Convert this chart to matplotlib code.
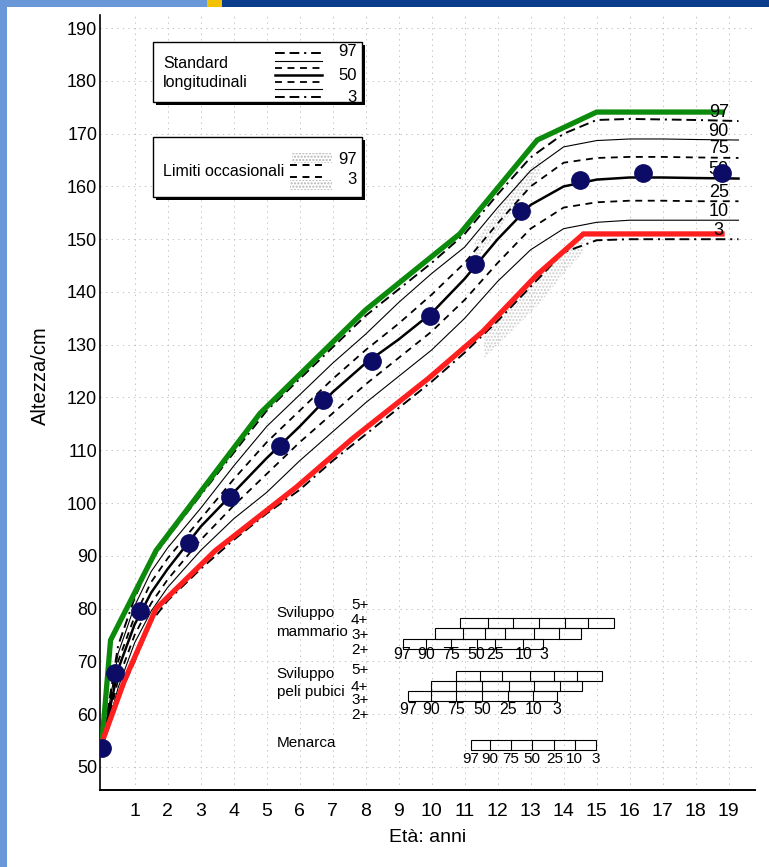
import numpy as np
import matplotlib.pyplot as plt
from matplotlib.patches import Rectangle

plt.rcParams['font.family'] = ['Liberation Sans', 'DejaVu Sans']
plt.rcParams['lines.scale_dashes'] = False

# percentile curves (age in years, height in cm)
ages = [0, 0.5, 1, 1.5, 2, 3, 4, 5, 6, 7, 8, 9, 10, 11, 12, 13, 14, 15, 16, 17, 18, 19.3]
p97 = [53.5, 73, 82, 89, 93.5, 101.5, 109.5, 117.5, 123.5, 129.5, 135.5, 140.5, 145.5, 151, 158.5, 165.5, 170, 172.6, 172.8, 172.7, 172.6, 172.4]
p90 = [53.5, 71.5, 80.5, 87, 91.5, 99, 107, 114.5, 120.5, 126.5, 132, 138, 143.5, 148.5, 156, 163, 167.5, 168.7, 169, 169, 168.9, 168.8]
p75 = [53.5, 70, 78.5, 85, 89.5, 97, 104.5, 111.5, 117.5, 123.5, 129, 134, 139.5, 145.5, 153, 160, 164.5, 165.4, 165.6, 165.6, 165.5, 165.4]
p50 = [53.5, 68.5, 77, 83, 87.5, 95.5, 102, 108.5, 114.5, 121, 126.5, 131, 136, 142.5, 150, 156.5, 160, 161.3, 161.7, 161.7, 161.6, 161.5]
p25 = [53.5, 66.5, 75, 81, 85.5, 93, 99.5, 105.5, 111.5, 117, 122.5, 127.5, 132.5, 138.5, 145.5, 152, 156, 157, 157.3, 157.3, 157.2, 157.2]
p10 = [53.5, 65, 73.5, 79.5, 84, 91, 97, 102, 108, 113.5, 119, 124, 129, 135, 142, 148, 152, 153.2, 153.6, 153.6, 153.6, 153.6]
p3 = [53.5, 63, 70, 77.5, 81.5, 87.5, 93, 98, 102.5, 108, 113, 118, 123, 128.5, 134.5, 141, 147.5, 149.8, 150, 150, 150, 150]

# bold limits
green_age = [0, 0.27, 1.65, 4.8, 8.0, 10.85, 13.2, 15.0, 18.8]
green_h = [54, 74, 91, 117, 136.6, 151, 168.8, 174.1, 174.1]
red_age = [0, 0.7, 1.65, 3.45, 5.9, 7.6, 9.9, 11.55, 13.2, 14.6, 18.8]
red_h = [54.5, 66.5, 80, 91, 103, 112.2, 123.6, 132.5, 143.3, 151, 151]

# patient measurements
dot_age = [0, 0.4, 1.15, 2.65, 3.9, 5.4, 6.7, 8.2, 9.95, 11.3, 12.7, 14.5, 16.4, 18.8]
dot_h = [53.5, 67.8, 79.5, 92.5, 101.2, 110.8, 119.5, 126.9, 135.5, 145.3, 155.3, 161.2, 162.5, 162.5]

# pubertal stages: ages at percentiles 97,90,75,50,25,10,3
pct_labels = ['97', '90', '75', '50', '25', '10', '3']
mamm_rows = [
    [10.85, 11.72, 12.48, 13.24, 14.05, 14.75, 15.53],
    [10.09, 10.95, 11.62, 12.23, 13.09, 13.85, 14.54],
    [9.12, 9.84, 10.60, 11.36, 11.92, 12.78, 13.39],
]
pub_rows = [
    [10.73, 11.46, 12.13, 12.99, 13.72, 14.41, 15.17],
    [9.99, 10.75, 11.52, 12.33, 13.09, 13.88, 14.56],
    [9.28, 9.99, 10.75, 11.52, 12.32, 13.08, 13.80],
]
menarca = [11.18, 11.77, 12.40, 13.04, 13.72, 14.33, 14.97]
stages = ['5+', '4+', '3+', '2+']

GREEN = '#0b8a0b'
RED = '#ff1f1f'
NAVY = '#0c0c66'
D97 = (0, (7, 3.5, 7, 3.5, 1.5, 3.5))
D75 = (0, (5, 4))

fig = plt.figure(figsize=(7.69, 8.67), dpi=100)
ax = fig.add_axes([100 / 769, 77 / 867, 655 / 769, 775 / 867])
ax.set_xlim(-0.05, 19.8)
ax.set_ylim(45.6, 192.5)

# faint graph-paper grid
for a in range(1, 20):
    ax.axvline(a, color='#c4c4c4', lw=0.7, ls=(0, (1, 3)), zorder=0)
for h in range(50, 200, 10):
    ax.axhline(h, color='#c4c4c4', lw=0.7, ls=(0, (1, 3)), zorder=0)

# occasional limits (stippled)
ax.fill_between([11.3, 12.0, 12.7, 13.3], [149.5, 155.5, 161.5, 165.5], [145.5, 151.5, 157.5, 162.5],
                facecolor='none', edgecolor='#cccccc', hatch='.....', lw=0, zorder=1)
ax.fill_between([11.6, 12.5, 13.3, 14.0, 14.6], [132.5, 138.5, 143.5, 147.5, 150.5], [127.5, 133, 138, 143.5, 147.5],
                facecolor='none', edgecolor='#cccccc', hatch='.....', lw=0, zorder=1)

ax.plot(ages, p97, color='k', lw=1.4, ls=D97, zorder=2)
ax.plot(ages, p90, color='k', lw=0.8, zorder=2)
ax.plot(ages, p75, color='k', lw=1.3, ls=D75, zorder=2)
ax.plot(ages, p50, color='k', lw=1.8, zorder=2)
ax.plot(ages, p25, color='k', lw=1.3, ls=D75, zorder=2)
ax.plot(ages, p10, color='k', lw=0.8, zorder=2)
ax.plot(ages, p3, color='k', lw=1.4, ls=D97, zorder=2)

ax.plot(green_age, green_h, color=GREEN, lw=3.8, solid_joinstyle='miter', zorder=3)
ax.plot(red_age, red_h, color=RED, lw=3.8, solid_joinstyle='miter', zorder=3)

for lab, ser in zip(pct_labels, [p97, p90, p75, p50, p25, p10, p3]):
    ax.text(18.7, ser[-1] + 0.1, lab, ha='center', va='bottom', fontsize=13, zorder=4)

ax.plot(dot_age, dot_h, 'o', color=NAVY, ms=12.5, zorder=5)

# pubertal development bars
def draw_bars(rows, tops, height):
    for row, top in zip(rows, tops):
        ax.add_patch(Rectangle((row[0], top - height), row[-1] - row[0], height,
                               fill=False, ec='k', lw=0.8, zorder=2))
        for b in row[1:-1]:
            ax.plot([b, b], [top - height, top], color='k', lw=0.8, zorder=2)

draw_bars(mamm_rows, [78.2, 76.25, 74.3], 1.95)
draw_bars(pub_rows, [68.2, 66.3, 64.4], 1.95)
draw_bars([menarca], [55.0], 1.9)

for b, lab in zip(mamm_rows[2], pct_labels):
    ax.text(b, 71.2, lab, ha='center', va='center', fontsize=11.5)
for b, lab in zip(pub_rows[2], pct_labels):
    ax.text(b, 60.8, lab, ha='center', va='center', fontsize=11.5)
for b, lab in zip(menarca, pct_labels):
    ax.text(b, 51.4, lab, ha='center', va='center', fontsize=11)

for s, y in zip(stages, [80.7, 77.9, 75.0, 72.2]):
    ax.text(7.82, y, s, ha='center', va='center', fontsize=11)
for s, y in zip(stages, [68.4, 65.2, 62.7, 59.9]):
    ax.text(7.82, y, s, ha='center', va='center', fontsize=11)
ax.text(5.3, 79.2, 'Sviluppo', ha='left', va='center', fontsize=11)
ax.text(5.3, 75.6, 'mammario', ha='left', va='center', fontsize=11)
ax.text(5.3, 67.5, 'Sviluppo', ha='left', va='center', fontsize=11)
ax.text(5.3, 64.1, 'peli pubici', ha='left', va='center', fontsize=11)
ax.text(5.3, 54.6, 'Menarca', ha='left', va='center', fontsize=11)

# axes styling
ax.set_xticks(range(1, 20))
ax.set_yticks(range(50, 200, 10))
ax.tick_params(axis='x', length=0, pad=9, labelsize=14)
ax.tick_params(axis='y', length=0, pad=2, labelsize=13)
for side in ['top', 'right']:
    ax.spines[side].set_visible(False)
ax.spines['left'].set_linewidth(1.2)
ax.spines['bottom'].set_linewidth(1.4)
ax.set_ylabel('Altezza/cm', fontsize=14.5)
ax.yaxis.set_label_coords(-0.076, 0.535)
ax.set_xlabel('Età: anni', fontsize=14)
ax.xaxis.set_label_coords(0.5, -0.05)

# overlay in pixel coordinates for frame and legend boxes
ov = fig.add_axes([0, 0, 1, 1])
ov.set_xlim(0, 769)
ov.set_ylim(867, 0)
ov.axis('off')
ov.patch.set_alpha(0)

ov.add_patch(Rectangle((0, 0), 207, 7, color='#6a97d8', lw=0))
ov.add_patch(Rectangle((207, 0), 15, 7, color='#f2c200', lw=0))
ov.add_patch(Rectangle((222, 0), 547, 7, color='#0a3d8c', lw=0))
ov.add_patch(Rectangle((0, 0), 7, 867, color='#6a97d8', lw=0))

def box(x0, y0, x1, y1):
    ov.add_patch(Rectangle((x0 + 3, y0 + 3), x1 - x0, y1 - y0, color='k', lw=0, zorder=5))
    ov.add_patch(Rectangle((x0, y0), x1 - x0, y1 - y0, fc='white', ec='k', lw=1, zorder=6))

box(153, 42, 362, 102)
ov.text(163, 63, 'Standard', fontsize=11.5, va='center', zorder=7)
ov.text(163, 83, 'longitudinali', fontsize=11.5, va='center', zorder=7)
leg_styles = [(D97, 1.4), ('-', 0.8), (D75, 1.3), ('-', 1.8), (D75, 1.3), ('-', 0.8), (D97, 1.4)]
for (ls, lw), y in zip(leg_styles, [53, 61, 68, 75, 82, 89, 97]):
    ov.plot([275, 322], [y, y], color='k', ls=ls, lw=lw, zorder=7)
ov.text(357, 52, '97', fontsize=12, ha='right', va='center', zorder=7)
ov.text(357, 75, '50', fontsize=12, ha='right', va='center', zorder=7)
ov.text(357, 97, '3', fontsize=12, ha='right', va='center', zorder=7)

box(153, 137, 362, 197)
ov.text(163, 172, 'Limiti occasionali', fontsize=11.5, va='center', zorder=7)
ov.add_patch(Rectangle((292, 153), 40, 10, fc='none', ec='#b4b4b4', hatch='.....', lw=0, zorder=7))
ov.add_patch(Rectangle((290, 180), 42, 10, fc='none', ec='#b4b4b4', hatch='.....', lw=0, zorder=7))
ov.plot([290, 322], [165, 165], color='k', ls=D75, lw=1.4, zorder=8)
ov.plot([290, 322], [177, 177], color='k', ls=D75, lw=1.4, zorder=8)
ov.text(357, 159, '97', fontsize=12, ha='right', va='center', zorder=8)
ov.text(357, 179, '3', fontsize=12, ha='right', va='center', zorder=8)

fig.savefig('out.png', dpi=100)
